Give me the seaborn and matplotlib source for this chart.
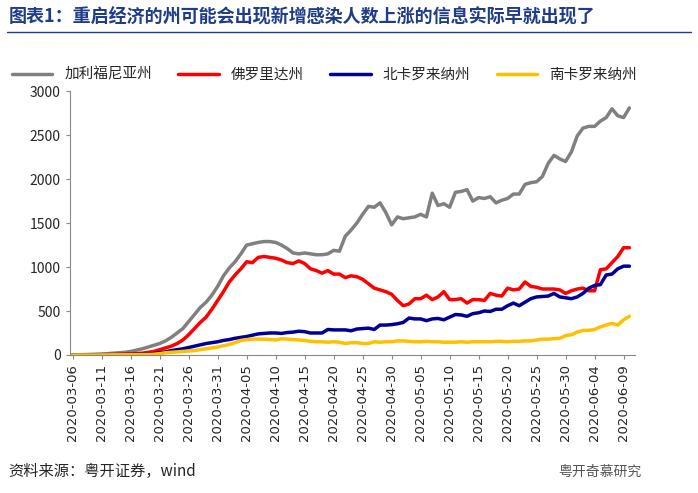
import matplotlib
matplotlib.use("Agg")
import matplotlib.pyplot as plt
import seaborn as sns
import pandas as pd
import numpy as np

dates = pd.date_range("2020-03-06", "2020-06-10", freq="D")
ca = [0,2,4,6,8, 10,15,20,25,30, 40,55,70,90,110, 130,160,200,250,300,
      380,460,540,600,680, 780,900,990,1060,1150, 1250,1265,1280,1290,1290,
      1280,1250,1210,1160,1150, 1160,1150,1140,1140,1150, 1190,1180,1350,1420,1500,
      1600,1690,1680,1730,1620, 1480,1570,1550,1560,1570, 1600,1570,1840,1700,1720,
      1680,1850,1860,1880,1750, 1790,1780,1800,1730,1760, 1780,1830,1830,1940,1960,
      1970,2030,2180,2270,2230, 2200,2310,2490,2580,2600, 2600,2660,2700,2800,2720,
      2700,2810]
fl = [0,0,1,2,3, 4,5,6,8,10, 12,15,20,30,40, 60,80,100,130,170,
      230,300,370,430,520, 620,720,830,910,980, 1060,1050,1110,1120,1110,
      1100,1080,1050,1040,1070, 1040,980,960,930,960, 920,920,880,900,890,
      860,810,760,740,720, 690,620,560,580,640, 640,680,630,660,720,
      630,630,640,590,630, 630,620,700,680,670, 760,740,750,830,780,
      770,750,750,750,740, 700,730,750,760,730, 730,970,980,1050,1120,
      1220,1220]
nc = [0,0,0,1,1, 2,2,3,3,4, 5,6,8,10,15, 25,35,50,60,70,
      85,100,115,130,140, 150,165,175,190,200, 210,225,240,245,250,
      250,245,255,260,270, 265,250,250,250,290, 285,285,285,275,295,
      300,305,290,340,340, 345,355,370,420,410, 410,390,410,415,400,
      430,460,455,440,470, 480,500,495,520,520, 560,590,560,600,640,
      660,665,670,700,660, 650,640,660,700,760, 790,800,910,920,980,
      1010,1010]
sc = [0,0,0,0,0, 1,1,2,2,2, 3,3,4,5,8, 15,25,30,35,40,
      45,50,60,70,80, 90,105,120,140,165, 175,180,180,180,175,
      170,185,180,175,170, 165,155,150,150,145, 150,145,130,140,140,
      130,130,150,145,150, 150,160,160,155,150, 150,155,150,150,145,
      145,145,150,145,150, 150,150,150,155,155, 150,155,155,160,160,
      170,180,180,185,190, 220,230,260,280,280, 290,320,340,360,340,
      400,440]
names = ["加利福尼亚州", "佛罗里达州", "北卡罗来纳州", "南卡罗来纳州"]
colors = ["#808080", "#FF0000", "#000099", "#FFC000"]

df = pd.DataFrame({"date": dates, names[0]: ca, names[1]: fl, names[2]: nc, names[3]: sc})
long = df.melt(id_vars="date", var_name="州", value_name="v")

sns.set_style("white")
plt.rcParams['font.family'] = ['Noto Sans CJK SC', 'DejaVu Sans']

fig = plt.figure(figsize=(6.98, 4.93), dpi=100)
ax = fig.add_axes([0.1, 0.28, 0.81, 0.535])
sns.lineplot(data=long, x="date", y="v", hue="州", palette=colors, linewidth=2.5, ax=ax)
ax.set_xlabel(""); ax.set_ylabel("")
ax.set_ylim(0, 3000)
ax.set_yticks(range(0, 3001, 500))
ticks = pd.date_range("2020-03-06", "2020-06-09", freq="5D")
ax.set_xticks(ticks)
ax.set_xticklabels([t.strftime("%Y-%m-%d") for t in ticks], rotation=90, fontsize=9.5, family="DejaVu Sans")
ax.set_xlim(dates[0] - pd.Timedelta(days=0.5), dates[-1] + pd.Timedelta(days=1))
for lab in ax.get_yticklabels():
    lab.set_fontsize(10)
for s in ["top", "right"]:
    ax.spines[s].set_visible(False)
for s in ["left", "bottom"]:
    ax.spines[s].set_color("#888888")
ax.tick_params(axis="both", length=3, color="#888888", direction="out", left=True, bottom=True)
ax.legend(loc="upper center", bbox_to_anchor=(0.45, 1.14), ncol=4, frameon=False, fontsize=10.5,
          handlelength=2.8, columnspacing=1.8)
fig.text(0.012, 0.955, "图表1：重启经济的州可能会出现新增感染人数上涨的信息实际早就出现了",
         fontsize=13, fontweight="bold", color="#1F3C88")
fig.add_artist(plt.Line2D([0.01, 0.99], [0.935, 0.935], color="#1F3C88", lw=1))
fig.text(0.012, 0.035, "资料来源：粤开证券，wind", fontsize=11, style="italic")
fig.text(0.80, 0.035, "粤开奇慕研究", fontsize=10, color="#555555")
fig.savefig("out.png", dpi=100)
